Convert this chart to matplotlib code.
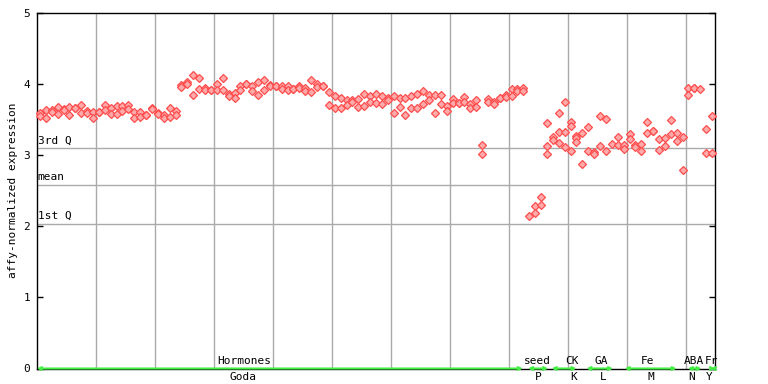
import numpy as np
import matplotlib.pyplot as plt

# expression values per sample column (replicates)
sample_values = [
    [3.593, 3.555], [3.630, 3.523], [3.630, 3.601], [3.677, 3.583], [3.649, 3.630],
    [3.677, 3.565], [3.668, 3.668], [3.706, 3.593], [3.621, 3.593], [3.601, 3.527],
    [3.601, 3.601], [3.706, 3.639], [3.658, 3.583], [3.696, 3.583], [3.686, 3.621],
    [3.706, 3.649], [3.611, 3.527], [3.611, 3.537], [3.565, 3.565], [3.658, 3.650],
    [3.593, 3.583], [3.565, 3.517], [3.663, 3.537], [3.625, 3.565], [3.987, 3.959],
    [4.034, 4.006], [4.128, 3.846], [4.090, 3.931], [3.939, 3.921], [3.921, 3.921],
    [4.006, 3.921], [4.090, 3.921], [3.865, 3.837], [3.875, 3.808], [3.968, 3.911],
    [3.996, 3.996], [3.968, 3.903], [4.034, 3.846], [4.062, 3.921], [3.987, 3.980],
    [3.968, 3.968], [3.968, 3.931], [3.977, 3.921], [3.931, 3.925], [3.977, 3.949],
    [3.939, 3.903], [4.062, 3.893], [3.996, 3.959], [3.968, 3.968], [3.893, 3.706],
    [3.837, 3.668], [3.808, 3.668], [3.780, 3.706], [3.770, 3.742], [3.790, 3.677],
    [3.865, 3.696], [3.827, 3.752], [3.865, 3.734], [3.827, 3.724], [3.799, 3.780],
    [3.827, 3.593], [3.799, 3.677], [3.799, 3.565], [3.827, 3.668], [3.865, 3.668],
    [3.903, 3.724], [3.846, 3.770], [3.846, 3.593], [3.846, 3.724], [3.686, 3.621],
    [3.790, 3.734], [3.734, 3.734], [3.818, 3.752], [3.724, 3.658], [3.770, 3.677],
    [3.142, 3.020], [3.790, 3.752], [3.752, 3.724], [3.799, 3.799], [3.846, 3.818],
    [3.931, 3.827], [3.931, 3.903], [3.939, 3.903], [2.146], [2.287, 2.185],
    [2.418, 2.297], [3.452, 3.132, 3.020], [3.255, 3.217], [3.593, 3.330, 3.170],
    [3.752, 3.330, 3.114], [3.470, 3.414, 3.058], [3.273, 3.235, 3.189], [3.311, 2.879],
    [3.396, 3.058], [3.038, 3.010], [3.555, 3.123], [3.508, 3.058], [3.161],
    [3.255, 3.142], [3.142, 3.086], [3.301, 3.227], [3.142, 3.114], [3.161, 3.058],
    [3.470, 3.311], [3.339, 3.339], [3.227, 3.076], [3.245, 3.123], [3.499, 3.301],
    [3.311, 3.199], [3.255, 2.794], [3.939, 3.846], [3.939, 3.939], [3.931],
    [3.368, 3.030], [3.555, 3.030],
]

# quantile reference lines
q_labels = ["3rd Q", "mean", "1st Q"]
q_values = [3.10, 2.58, 2.035]

# sample groups along the bottom (start / end in sample columns)
group_names = ["Hormones", "seed", "CK", "GA", "Fe", "ABA", "Fr"]
group_codes = ["Goda", "P", "K", "L", "M", "N", "Y"]
group_start = [0.0, 83.3, 87.3, 93.2, 99.7, 110.4, 114.3]
group_end = [82.4, 86.7, 91.5, 97.7, 108.5, 112.7, 115.0]
name_pos = [35.1, 84.8, 90.7, 95.7, 103.6, 111.4, 114.4]
code_pos = [35.0, 85.0, 91.1, 96.0, 104.1, 111.0, 114.1]

n_cols = len(sample_values)
xs = np.concatenate([[i + 0.5] * len(v) for i, v in enumerate(sample_values)])
ys = np.concatenate([v for v in sample_values])

plt.rcParams['font.family'] = ['DejaVu Sans Mono']

fig = plt.figure(figsize=(7.68, 3.84), dpi=100)
ax = fig.add_axes([37 / 768, 15.5 / 384, 678 / 768, 355.5 / 384])

ax.set_xlim(0, n_cols)
ax.set_ylim(0, 5)

# vertical grid every 10 samples
for gx in range(10, n_cols, 10):
    ax.axvline(gx, color="#aaaaaa", lw=1.0, zorder=1)

for lab, q in zip(q_labels, q_values):
    ax.axhline(q, color="#aaaaaa", lw=1.0, zorder=1)
    ax.text(0.1, q + 0.04, lab, fontsize=8, va="bottom", ha="left", zorder=2)

ax.plot(xs, ys, linestyle="none", marker="D", markersize=4.0,
        markerfacecolor="#ffaaaa", markeredgecolor="#ff4d4d",
        markeredgewidth=0.9, zorder=3, clip_on=False)

# groups: green arrows at y=0 and labels
for s, e in zip(group_start, group_end):
    ax.annotate("", xy=(s, 0), xytext=(e, 0), xycoords="data",
                arrowprops=dict(arrowstyle="<->,head_length=0.2,head_width=0.1",
                                color="#44ee44", lw=1.5, shrinkA=0, shrinkB=0),
                annotation_clip=False, zorder=4)
for name, px in zip(group_names, name_pos):
    ax.annotate(name, xy=(px, 0), xytext=(0, 1.5), textcoords="offset points",
                ha="center", va="bottom", fontsize=8, annotation_clip=False)
for code, px in zip(group_codes, code_pos):
    ax.annotate(code, xy=(px, 0), xytext=(0, -2.5), textcoords="offset points",
                ha="center", va="top", fontsize=8, annotation_clip=False)

ax.set_xticks([])
ax.set_yticks(range(0, 6))
ax.tick_params(axis="y", direction="in", length=4.5, width=1, pad=5,
               labelsize=8, right=True)
for sp in ax.spines.values():
    sp.set_color("black")
    sp.set_linewidth(1.0)

ax.set_ylabel("affy-normalized expression", fontsize=8, labelpad=4)

fig.savefig("out.png", dpi=100)
